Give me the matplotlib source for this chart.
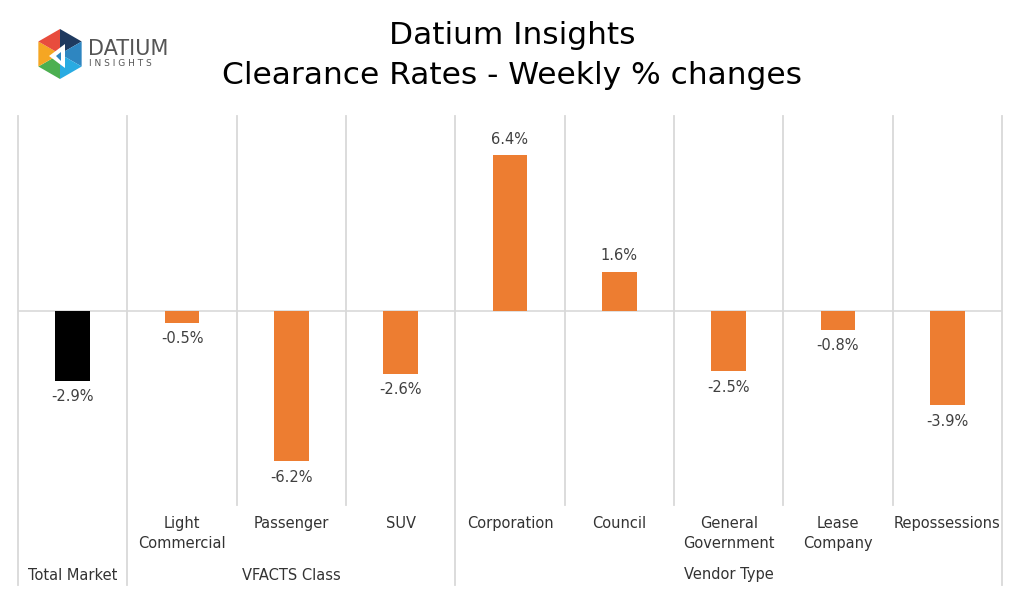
import numpy as np
import matplotlib.pyplot as plt
from matplotlib.patches import Polygon
from matplotlib.transforms import blended_transform_factory

# --- data ---
categories = ["", "Light\nCommercial", "Passenger", "SUV", "Corporation",
              "Council", "General\nGovernment", "Lease\nCompany", "Repossessions"]
changes = [-2.9, -0.5, -6.2, -2.6, 6.4, 1.6, -2.5, -0.8, -3.9]
groups = ["Total Market", "VFACTS Class", "Vendor Type"]
group_spans = [(0, 0), (1, 3), (4, 8)]
bar_colors = ["#000000"] + ["#ED7D31"] * 8

plt.rcParams['font.family'] = ['DejaVu Sans']
text_col = "#333333"
grid_col = "#D9D9D9"

fig = plt.figure(figsize=(10.24, 5.95), dpi=100)
ax = fig.add_axes([18 / 1024, 1 - 505 / 595, 984 / 1024, 389 / 595])

x = np.arange(len(changes))
ax.bar(x, changes, width=0.32, color=bar_colors, zorder=3)
ax.set_xlim(-0.5, len(changes) - 0.5)
ax.set_ylim(-8, 8)
ax.axhline(0, color=grid_col, lw=1.2, zorder=2)

for s in ax.spines.values():
    s.set_visible(False)
ax.set_xticks([])
ax.set_yticks([])

# data labels
for xi, v in zip(x, changes):
    if v >= 0:
        ax.annotate(f"{v:.1f}%", (xi, v), xytext=(0, 6), textcoords="offset points",
                    ha="center", va="bottom", fontsize=10.5, color="#404040")
    else:
        ax.annotate(f"{v:.1f}%", (xi, v), xytext=(0, -6), textcoords="offset points",
                    ha="center", va="top", fontsize=10.5, color="#404040")

# multi-level category axis
trans = blended_transform_factory(ax.transData, ax.transAxes)
group_edges = {-0.5, 0.5, 3.5, 8.5}
for b in np.arange(-0.5, len(changes)):
    y_end = -80 / 389 if b in group_edges else 0
    ax.plot([b, b], [1, y_end], transform=trans, color=grid_col, lw=1.3,
            clip_on=False, zorder=1)

for xi, lab in zip(x, categories):
    ax.text(xi, -11 / 389, lab, transform=trans, ha="center", va="top",
            fontsize=10.5, color=text_col, linespacing=1.4)

for g, (a, b) in zip(groups, group_spans):
    ax.text((a + b) / 2, -70 / 389, g, transform=trans, ha="center", va="center",
            fontsize=10.5, color=text_col)

# title
fig.text(0.5, 1 - 36 / 595, "Datium Insights", ha="center", va="center",
         fontsize=22.5, color="#000000")
fig.text(0.5, 1 - 76 / 595, "Clearance Rates - Weekly % changes", ha="center",
         va="center", fontsize=22.5, color="#000000")

# logo
lax = fig.add_axes([0, 0, 1, 1], zorder=5)
lax.set_xlim(0, 1024)
lax.set_ylim(595, 0)
lax.axis("off")
cx, cy, r = 60, 54, 25
hex_cols = ["#1F3A5F", "#2E86C1", "#29ABE2", "#4CAF50", "#F5A623", "#E84C3D"]
angles = np.deg2rad(np.arange(-90, 270, 60))
pts = [(cx + r * np.cos(a), cy + r * np.sin(a)) for a in angles]
for i in range(6):
    tri = [(cx, cy), pts[i], pts[(i + 1) % 6]]
    lax.add_patch(Polygon(tri, closed=True, color=hex_cols[i], lw=0))
lax.add_patch(Polygon([(cx - 11, cy + 2), (cx + 5, cy - 10), (cx + 5, cy + 14)],
                      closed=True, color="white", lw=0))
lax.add_patch(Polygon([(cx - 4, cy + 2), (cx + 1, cy - 2), (cx + 1, cy + 7)],
                      closed=True, color="#2E86C1", lw=0))
lax.text(88, 49, "DATIUM", fontsize=15, color="#555555", va="center", ha="left")
lax.text(89, 64, "I N S I G H T S", fontsize=6.5, color="#555555", va="center",
         ha="left")

fig.savefig("out.png", dpi=100, facecolor="white")
